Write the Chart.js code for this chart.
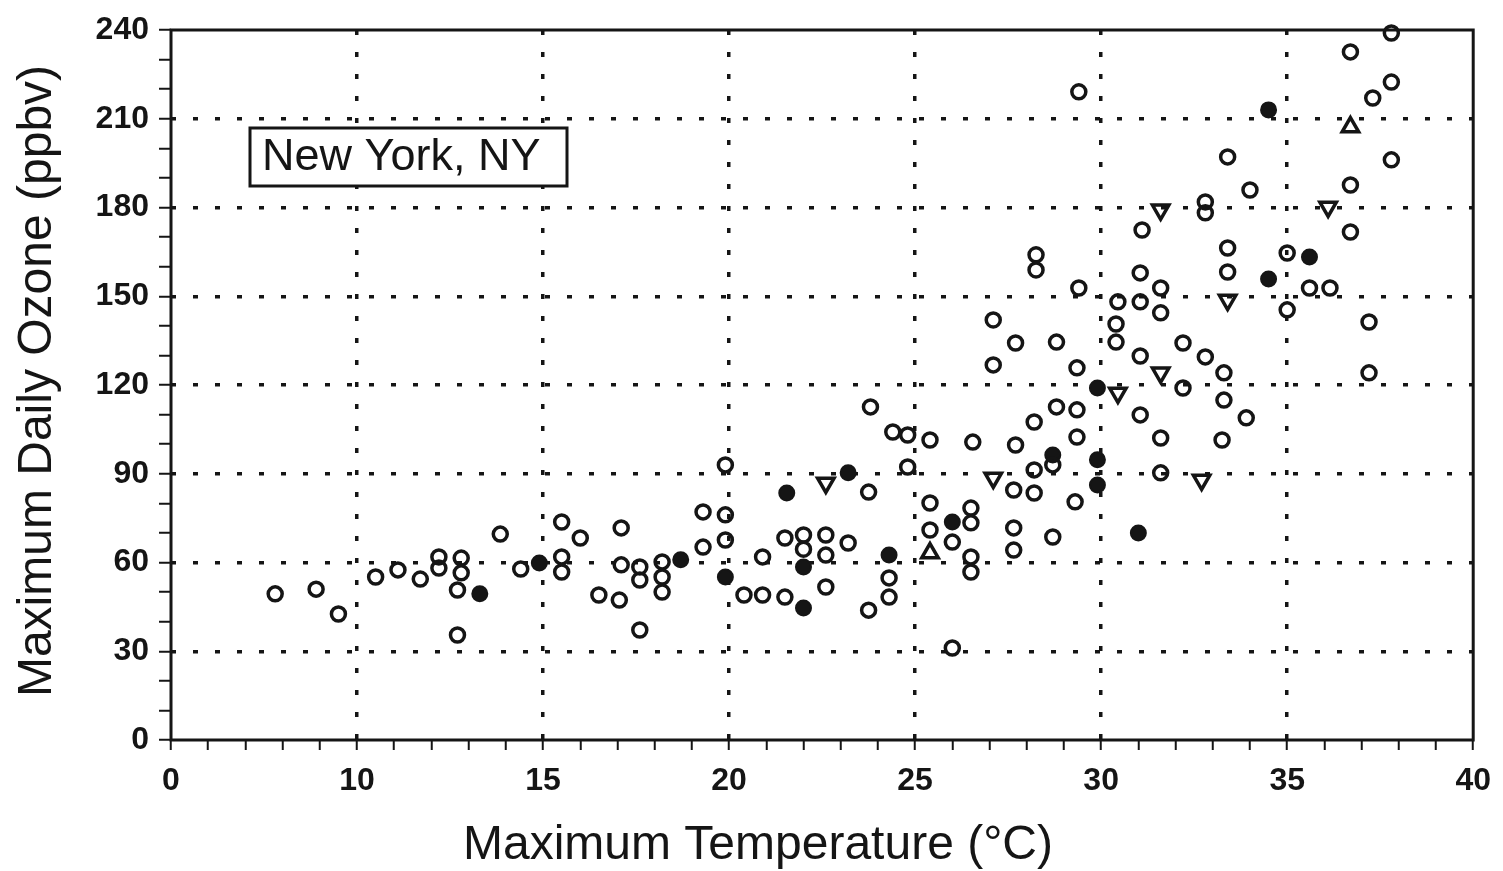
<!DOCTYPE html>
<html>
<head>
<meta charset="utf-8">
<style>
  html, body { margin: 0; padding: 0; background: #fff; }
  canvas { display: block; }
</style>
<script src="https://cdn.jsdelivr.net/npm/chart.js@4.4.0/dist/chart.umd.min.js"></script>
</head>
<body>
<canvas id="ozone" width="1503" height="871"></canvas>
<script>
// tick labels (the printed axis starts at 5 but is labelled "0")
const xTickValues = [5, 10, 15, 20, 25, 30, 35, 40]
const xTickText = ['0', '10', '15', '20', '25', '30', '35', '40']
const yTickValues = [0, 30, 60, 90, 120, 150, 180, 210, 240]

// open circles
const openX = [7.8, 8.9, 9.5, 10.5, 11.1, 11.7, 12.2, 12.2, 12.8, 12.8, 12.7, 12.7, 13.85, 14.4, 15.5, 15.5, 15.5, 16.0, 16.5,
  17.1, 17.05, 17.1, 17.6, 17.6, 17.6, 18.2, 18.2, 18.2, 19.3, 19.3, 19.9, 19.9, 19.9, 20.4, 20.9, 20.9, 21.5, 21.5,
  22.0, 22.0, 22.6, 22.6, 22.6, 23.75, 23.2, 23.75, 23.8, 24.4, 24.8, 25.4, 24.8, 24.3, 24.3, 25.4, 25.4, 26.0, 26.5,
  26.5, 26.5, 26.5, 26.0, 26.55, 27.7, 27.65, 27.65, 27.65, 28.2, 28.2, 28.2, 27.1, 29.4, 37.8, 36.7, 37.8, 37.3,
  33.4, 37.8, 34.0, 36.7, 32.8, 32.8, 31.1, 36.7, 28.25, 28.25, 33.4, 33.4, 35.0, 35.6, 36.15, 37.2, 31.05, 31.6,
  31.6, 29.4, 30.45, 31.05, 30.4, 30.4, 27.1, 27.7, 28.8, 32.2, 32.8, 31.05, 29.35, 33.3, 33.3, 32.2, 31.05, 33.9,
  28.8, 29.35, 29.35, 31.6, 33.25, 28.7, 31.6, 29.3, 28.7, 37.2, 35.0]
const openY = [49.4, 51.0, 42.6, 55.1, 57.5, 54.4, 61.9, 58.1, 61.5, 56.5, 50.7, 35.5, 69.6, 57.8, 73.7, 61.9, 56.8, 68.3, 49.0,
  71.7, 47.3, 59.2, 58.5, 54.1, 37.2, 60.2, 55.1, 50.0, 77.1, 65.2, 93.0, 76.1, 67.6, 49.0, 49.0, 61.9, 68.3, 48.3,
  69.3, 64.5, 69.3, 62.5, 51.7, 83.8, 66.6, 43.9, 112.6, 104.1, 103.1, 101.4, 92.3, 54.8, 48.3, 80.1, 71.0, 66.9, 78.4,
  73.4, 61.9, 56.8, 31.1, 100.7, 99.7, 84.5, 71.7, 64.2, 107.5, 91.3, 83.5, 126.8, 219.1, 239.0, 232.6, 222.4, 217.0,
  197.1, 196.1, 185.9, 187.6, 181.9, 178.2, 172.4, 171.7, 164.0, 158.9, 166.3, 158.2, 164.6, 152.8, 152.8, 141.3, 157.9, 152.8,
  144.4, 152.8, 148.1, 148.1, 140.6, 134.5, 142.0, 134.2, 134.5, 134.2, 129.5, 129.8, 125.8, 124.1, 114.9, 119.0, 109.9, 108.9,
  112.6, 111.6, 102.4, 102.1, 101.4, 93.0, 90.3, 80.5, 68.6, 124.1, 145.4]

// filled circles
const filledX = [13.3, 14.9, 18.7, 19.9, 21.55, 22.0, 22.0, 23.2, 24.3, 26.0, 28.7, 29.9, 29.9, 29.9, 31.0, 34.5, 35.6, 34.5]
const filledY = [49.4, 59.8, 60.9, 55.1, 83.5, 58.5, 44.6, 90.3, 62.5, 73.7, 96.3, 94.7, 86.2, 119.0, 70.0, 213.0, 163.3, 155.8]

// downward triangles
const triDownX = [22.6, 31.6, 36.1, 33.4, 31.6, 30.45, 32.7, 27.1]
const triDownY = [86.9, 179.2, 180.2, 148.7, 124.1, 117.3, 87.9, 88.6]

// upward triangles
const triUpX = [25.4, 36.7]
const triUpY = [63.2, 207.2]

function toPoints(xs, ys) {
  return xs.map((x, i) => ({ x: x, y: ys[i] }))
}

const ink = '#151515'
const fontFam = "'Liberation Sans', Arial, Helvetica, sans-serif"

// frame, axis titles and the place-name box
const framePlugin = {
  id: 'frame',
  afterDraw(chart) {
    const { ctx, chartArea: a } = chart
    ctx.save()
    ctx.strokeStyle = ink
    ctx.fillStyle = ink
    ctx.lineWidth = 3
    ctx.strokeRect(a.left, a.top, a.right - a.left, a.bottom - a.top)

    const bx = 250, by = a.top + 98
    ctx.fillStyle = '#fff'
    ctx.fillRect(bx, by, 317, 58)
    ctx.fillStyle = ink
    ctx.strokeRect(bx, by, 317, 58)
    ctx.font = '45px ' + fontFam
    ctx.textBaseline = 'middle'
    ctx.textAlign = 'left'
    ctx.fillText('New York, NY', bx + 12, by + 30)

    ctx.font = '48px ' + fontFam
    ctx.textAlign = 'center'
    ctx.fillText('Maximum Temperature (°C)', 758, 846)
    ctx.translate(38, 381)
    ctx.rotate(-Math.PI / 2)
    ctx.fillText('Maximum Daily Ozone (ppbv)', 0, 0)
    ctx.restore()
  }
}

const chart = new Chart(document.getElementById('ozone'), {
  type: 'scatter',
  data: {
    datasets: [
      { label: 'open', data: toPoints(openX, openY), pointStyle: 'circle', pointRadius: 7,
        borderWidth: 3.5, borderColor: ink, backgroundColor: 'rgba(0,0,0,0)', clip: false },
      { label: 'filled', data: toPoints(filledX, filledY), pointStyle: 'circle', pointRadius: 7.5,
        borderWidth: 2, borderColor: ink, backgroundColor: ink, clip: false },
      { label: 'tri down', data: toPoints(triDownX, triDownY), pointStyle: 'triangle', rotation: 180,
        pointRadius: 9.5, borderWidth: 3.5, borderColor: ink, backgroundColor: 'rgba(0,0,0,0)', clip: false },
      { label: 'tri up', data: toPoints(triUpX, triUpY), pointStyle: 'triangle', pointRadius: 9.5,
        borderWidth: 3.5, borderColor: ink, backgroundColor: 'rgba(0,0,0,0)', clip: false }
    ]
  },
  options: {
    responsive: false,
    animation: false,
    layout: { padding: { left: 0, right: 8, top: 30, bottom: 0 } },
    plugins: { legend: { display: false }, tooltip: { enabled: false } },
    scales: {
      x: {
        type: 'linear', min: 5, max: 40,
        afterFit: (s) => { s.height = 131 },
        afterBuildTicks: (s) => {
          const t = []
          for (let v = 5; v <= 40; v++) t.push({ value: v })
          s.ticks = t
        },
        ticks: {
          autoSkip: false, maxRotation: 0, padding: 12, color: ink,
          font: { size: 32, family: fontFam, weight: 'bold' },
          callback: (v) => {
            const i = xTickValues.indexOf(v)
            return i >= 0 ? xTickText[i] : ''
          }
        },
        grid: {
          color: (c) => (c.tick && c.tick.value % 5 === 0 && c.tick.value > 5 && c.tick.value < 40) ? ink : 'rgba(0,0,0,0)',
          lineWidth: 3.5, tickLength: 10, tickColor: ink, tickWidth: 2
        },
        border: { display: false, dash: [5, 17] }
      },
      y: {
        type: 'linear', min: 0, max: 240,
        afterFit: (s) => { s.width = 171 },
        ticks: {
          stepSize: 10, autoSkip: false, padding: 10, color: ink,
          font: { size: 32, family: fontFam, weight: 'bold' },
          callback: (v) => yTickValues.includes(v) ? String(v) : ''
        },
        grid: {
          color: (c) => (c.tick && c.tick.value % 30 === 0 && c.tick.value > 0 && c.tick.value < 240) ? ink : 'rgba(0,0,0,0)',
          lineWidth: 3.5, tickLength: 12, tickColor: ink, tickWidth: 2
        },
        border: { display: false, dash: [5, 17] }
      }
    }
  },
  plugins: [framePlugin]
})
</script>
</body>
</html>
